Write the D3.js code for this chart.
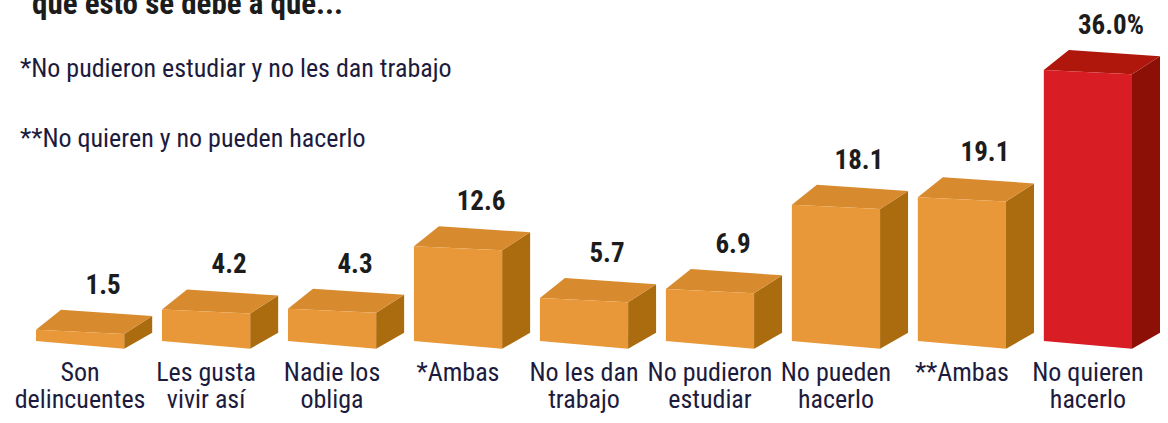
<!DOCTYPE html>
<html>
<head>
<meta charset="utf-8">
<script src="https://cdn.jsdelivr.net/npm/d3@7"></script>
<style>
  body { margin: 0; background: #fff; }
  text { font-family: "Liberation Sans Narrow", "Roboto Condensed", "DejaVu Sans Condensed", sans-serif; }
</style>
</head>
<body>
<div id="main"></div>
<script>
var categories = [
  ["Son", "delincuentes"],
  ["Les gusta", "vivir así"],
  ["Nadie los", "obliga"],
  ["*Ambas"],
  ["No les dan", "trabajo"],
  ["No pudieron", "estudiar"],
  ["No pueden", "hacerlo"],
  ["**Ambas"],
  ["No quieren", "hacerlo"]
];
var values = [1.5, 4.2, 4.3, 12.6, 5.7, 6.9, 18.1, 19.1, 36.0];
var valueLabels = ["1.5", "4.2", "4.3", "12.6", "5.7", "6.9", "18.1", "19.1", "36.0%"];
var highlight = 8;
var title = "que esto se debe a que...";
var notes = ["*No pudieron estudiar y no les dan trabajo", "**No quieren y no pueden hacerlo"];

var width = 1168, height = 423;
var svg = d3.select("#main").append("svg")
    .attr("width", width)
    .attr("height", height);

var x = d3.scaleBand()
    .domain(d3.range(values.length))
    .range([36, 1132])
    .paddingInner(0.3)
    .paddingOuter(0);

// left edge of the front face sits on this baseline
var base = 341;
var y = d3.scaleLinear().domain([0, 36]).range([base, 70]);

// depth / perspective offsets
var dx = 28, dy = -20, slant = 6;

var colors = {
  normal: { front: "#e89838", top: "#d88b2e", side: "#ab6c10" },
  hi: { front: "#d81d24", top: "#b0170c", side: "#8c1006" }
};

function pts(a) { return a.map(function(p) { return p.join(","); }).join(" "); }

svg.append("g").selectAll("g")
    .data(values)
    .enter()
    .append("g")
    .each(function(d, i) {
      var g = d3.select(this);
      var c = i === highlight ? colors.hi : colors.normal;
      var xl = x(i), xr = x(i) + x.bandwidth();
      var yt = y(d);
      var tl = [xl, yt], tr = [xr, yt + slant * 0.7];
      var bl = [xl, base], br = [xr, base + slant * 1.3];
      var tlb = [xl + dx - 3, yt + dy], trb = [xr + dx, tr[1] + dy + 2];
      var brb = [xr + dx, br[1] + dy + 4];

      g.append("polygon").attr("points", pts([tr, trb, brb, br])).attr("fill", c.side);
      g.append("polygon").attr("points", pts([tl, tr, trb, tlb])).attr("fill", c.top);
      g.append("polygon").attr("points", pts([tl, tr, br, bl])).attr("fill", c.front);
    });

// value labels
svg.append("g").selectAll("text")
    .data(values)
    .enter()
    .append("text")
    .attr("x", function(d, i) { return x(i) + x.bandwidth() / 2 + 23; })
    .attr("y", function(d) { return y(d) - 36; })
    .attr("text-anchor", "middle")
    .attr("font-size", 27)
    .attr("font-weight", "bold")
    .attr("fill", "#1c1c1c")
    .text(function(d, i) { return valueLabels[i]; });

// category labels
var cat = svg.append("g").selectAll("text")
    .data(categories)
    .enter()
    .append("text")
    .attr("x", function(d, i) { return x(i) + x.bandwidth() / 2; })
    .attr("y", 381)
    .attr("text-anchor", "middle")
    .attr("font-size", 26)
    .attr("fill", "#1d1b3d");

cat.selectAll("tspan")
    .data(function(d) { return d; })
    .enter()
    .append("tspan")
    .attr("x", function() { return d3.select(this.parentNode).attr("x"); })
    .attr("dy", function(d, j) { return j === 0 ? 0 : 27; })
    .text(function(d) { return d; });

// title (cut at top) and notes
svg.append("text")
    .attr("x", 32)
    .attr("y", 14)
    .attr("font-size", 31)
    .attr("font-weight", "bold")
    .attr("fill", "#1c1c1c")
    .text(title);

svg.append("g").selectAll("text")
    .data(notes)
    .enter()
    .append("text")
    .attr("x", 20)
    .attr("y", function(d, i) { return 77 + i * 70; })
    .attr("font-size", 26)
    .attr("fill", "#1d1b3d")
    .text(function(d) { return d; });
</script>
</body>
</html>
